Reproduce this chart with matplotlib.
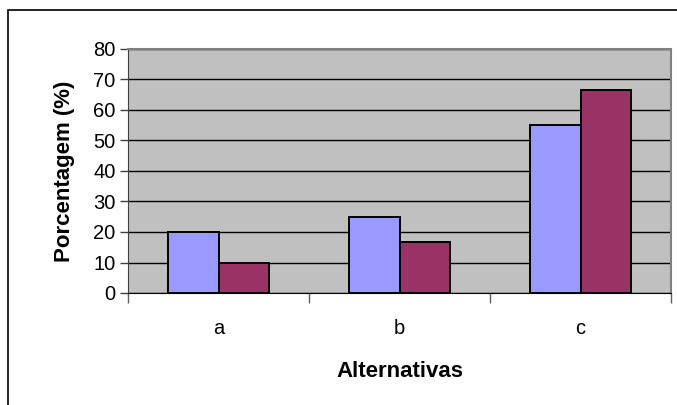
import numpy as np
import matplotlib.pyplot as plt
from matplotlib.patches import Rectangle

# Respostas por alternativa, em porcentagem.
categorias = ["a", "b", "c"]
serie1 = [20.0, 25.0, 55.0]
serie2 = [10.0, 16.7, 66.7]
yticks = [0, 10, 20, 30, 40, 50, 60, 70, 80]

plt.rcParams["font.family"] = ["Liberation Sans", "DejaVu Sans"]

fig = plt.figure(figsize=(6.77, 4.05), dpi=100)
ax = fig.add_axes([128 / 677, 1 - 293 / 405, 543 / 677, 244 / 405])

x = np.arange(len(categorias))
w = 0.28
ax.bar(x - w / 2, serie1, width=w, color="#9999FF", edgecolor="black", linewidth=1.4, zorder=3)
ax.bar(x + w / 2, serie2, width=w, color="#993366", edgecolor="black", linewidth=1.4, zorder=3)

ax.set_facecolor("#C0C0C0")
ax.set_xlim(-0.5, len(categorias) - 0.5)
ax.set_ylim(0, 80)
ax.set_yticks(yticks)
ax.yaxis.grid(True, color="black", linewidth=1.0, zorder=1)
ax.set_axisbelow(True)

# Rótulos no centro, marcas nas divisões entre categorias.
ax.set_xticks(x)
ax.set_xticklabels(categorias, fontsize=14.5)
ax.set_xticks(np.arange(len(categorias) + 1) - 0.5, minor=True)
ax.tick_params(axis="x", which="major", length=0, pad=19)
ax.tick_params(axis="x", which="minor", length=7, width=1, color="#606060")
ax.tick_params(axis="y", labelsize=14.5, length=6, width=1, color="#404040", pad=3)

ax.spines["left"].set_color("#404040")
ax.spines["bottom"].set_color("black")
ax.spines["top"].set_color("#808080")
ax.spines["top"].set_linewidth(1.5)
ax.spines["right"].set_color("#808080")
ax.spines["right"].set_linewidth(1.5)

ax.set_ylabel("Porcentagem (%)", fontsize=16, fontweight="bold", labelpad=13)
ax.set_xlabel("Alternativas", fontsize=16, fontweight="bold", labelpad=16)

# Moldura da área do gráfico.
fig.add_artist(Rectangle((8 / 677, -0.2), 1.2, 1.2 - 10 / 405,
                         transform=fig.transFigure, fill=False,
                         edgecolor="black", linewidth=1.2))

fig.savefig("out.png", dpi=100)
